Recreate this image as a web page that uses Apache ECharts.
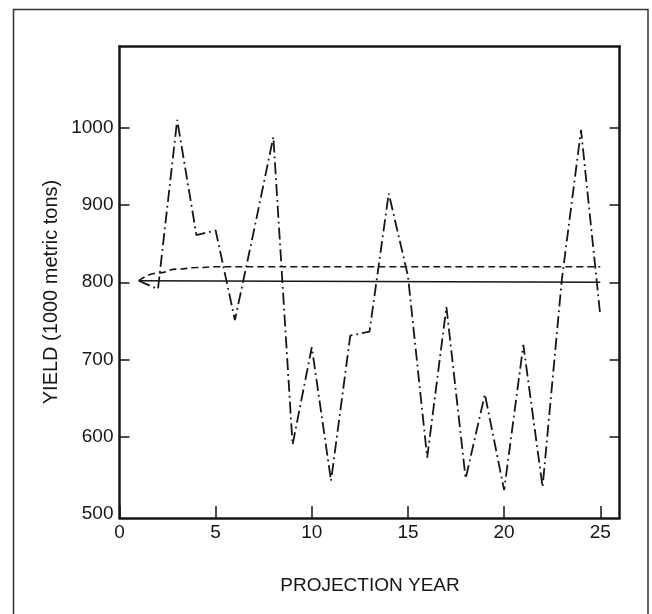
<!DOCTYPE html>
<html>
<head>
<meta charset="utf-8">
<script src="https://cdn.jsdelivr.net/npm/echarts@6/dist/echarts.min.js"></script>
<style>
html,body{margin:0;padding:0;background:#fff;}
#chart{width:652px;height:614px;}
</style>
</head>
<body>
<div id="chart"></div>
<script>
// Projection years
var years = [1,2,3,4,5,6,7,8,9,10,11,12,13,14,15,16,17,18,19,20,21,22,23,24,25];
// Simulated yield (dash-dot)
var simulatedYield = [802,791,1010,861,867,751,868,988,590,716,543,731,736,915,808,573,768,546,655,531,719,535,803,997,757];
// Expected yield (dashed)
var expectedYield = [802,812,817,819,820,820,820,820,820,820,820,820,820,820,820,820,820,820,820,820,820,820,820,820,820];
// Mean yield (solid)
var meanYears = [1,25];
var meanYield = [802,800];
// Tick labels
var xTicks = [0,5,10,15,20,25];
var yLabelValues = [500,600,700,800,900,1000];
var yTickValues = [600,700,800,900,1000];

function pairs(xs, ys){ return xs.map(function(x,i){ return [x, ys[i]]; }); }

var font = 'Liberation Sans, Arial, Helvetica, sans-serif';
var ink = '#161616';

var chart = echarts.init(document.getElementById('chart'), null, {renderer:'canvas'});
chart.setOption({
  animation:false,
  backgroundColor:'#fff',
  grid:{left:119.5, right:32.5, top:46.5, bottom:96, containLabel:false},
  xAxis:[{
    type:'value', min:0, max:26, interval:5,
    axisLine:{show:true, onZero:false, lineStyle:{color:ink, width:2.5}},
    axisTick:{show:true, inside:true, length:12, lineStyle:{color:ink, width:1.5}, customValues:xTicks},
    axisLabel:{show:true, margin:5, fontSize:19, color:ink, fontFamily:font, customValues:xTicks,
      formatter:function(v){ return String(v); }},
    splitLine:{show:false}
  },{
    type:'value', min:0, max:26, position:'top',
    axisLine:{show:true, onZero:false, lineStyle:{color:ink, width:2.5}},
    axisTick:{show:false}, axisLabel:{show:false}, splitLine:{show:false}
  }],
  yAxis:[{
    type:'value', min:495, max:1105,
    axisLine:{show:true, onZero:false, lineStyle:{color:ink, width:2.5}},
    axisTick:{show:true, inside:true, length:10, lineStyle:{color:ink, width:1.5}, customValues:yTickValues},
    axisLabel:{show:true, margin:6, fontSize:19, color:ink, fontFamily:font, customValues:yLabelValues,
      formatter:function(v){ return String(v); }},
    splitLine:{show:false}
  },{
    type:'value', min:495, max:1105, position:'right',
    axisLine:{show:true, onZero:false, lineStyle:{color:ink, width:2.5}},
    axisTick:{show:true, inside:true, length:10, lineStyle:{color:ink, width:1.5}, customValues:yTickValues},
    axisLabel:{show:false}, splitLine:{show:false}
  }],
  series:[{
    name:'Simulated', type:'line', data:pairs(years, simulatedYield),
    symbol:'none', lineStyle:{color:ink, width:1.8, type:[12,4,1.8,4]}
  },{
    name:'Expected', type:'line', data:pairs(years, expectedYield),
    symbol:'none', smooth:0.5, smoothMonotone:'x',
    lineStyle:{color:ink, width:1.6, type:[7,4]}
  },{
    name:'Mean', type:'line', data:pairs(meanYears, meanYield),
    symbol:'none', lineStyle:{color:ink, width:1.4, type:'solid'}
  }],
  graphic:[{
    type:'rect', shape:{x:13.5, y:9.5, width:634.5, height:640},
    style:{fill:'none', stroke:'#333', lineWidth:1.5}, silent:true
  },{
    type:'text', x:370, y:586,
    style:{text:'PROJECTION YEAR', font:'19px '+font, fill:ink, textAlign:'center', textVerticalAlign:'middle', align:'center', verticalAlign:'middle'}
  },{
    type:'text', x:51, y:292, rotation:Math.PI/2,
    style:{text:'YIELD (1000 metric tons)', font:'20px '+font, fill:ink, textAlign:'center', textVerticalAlign:'middle', align:'center', verticalAlign:'middle'}
  }]
});
</script>
</body>
</html>
